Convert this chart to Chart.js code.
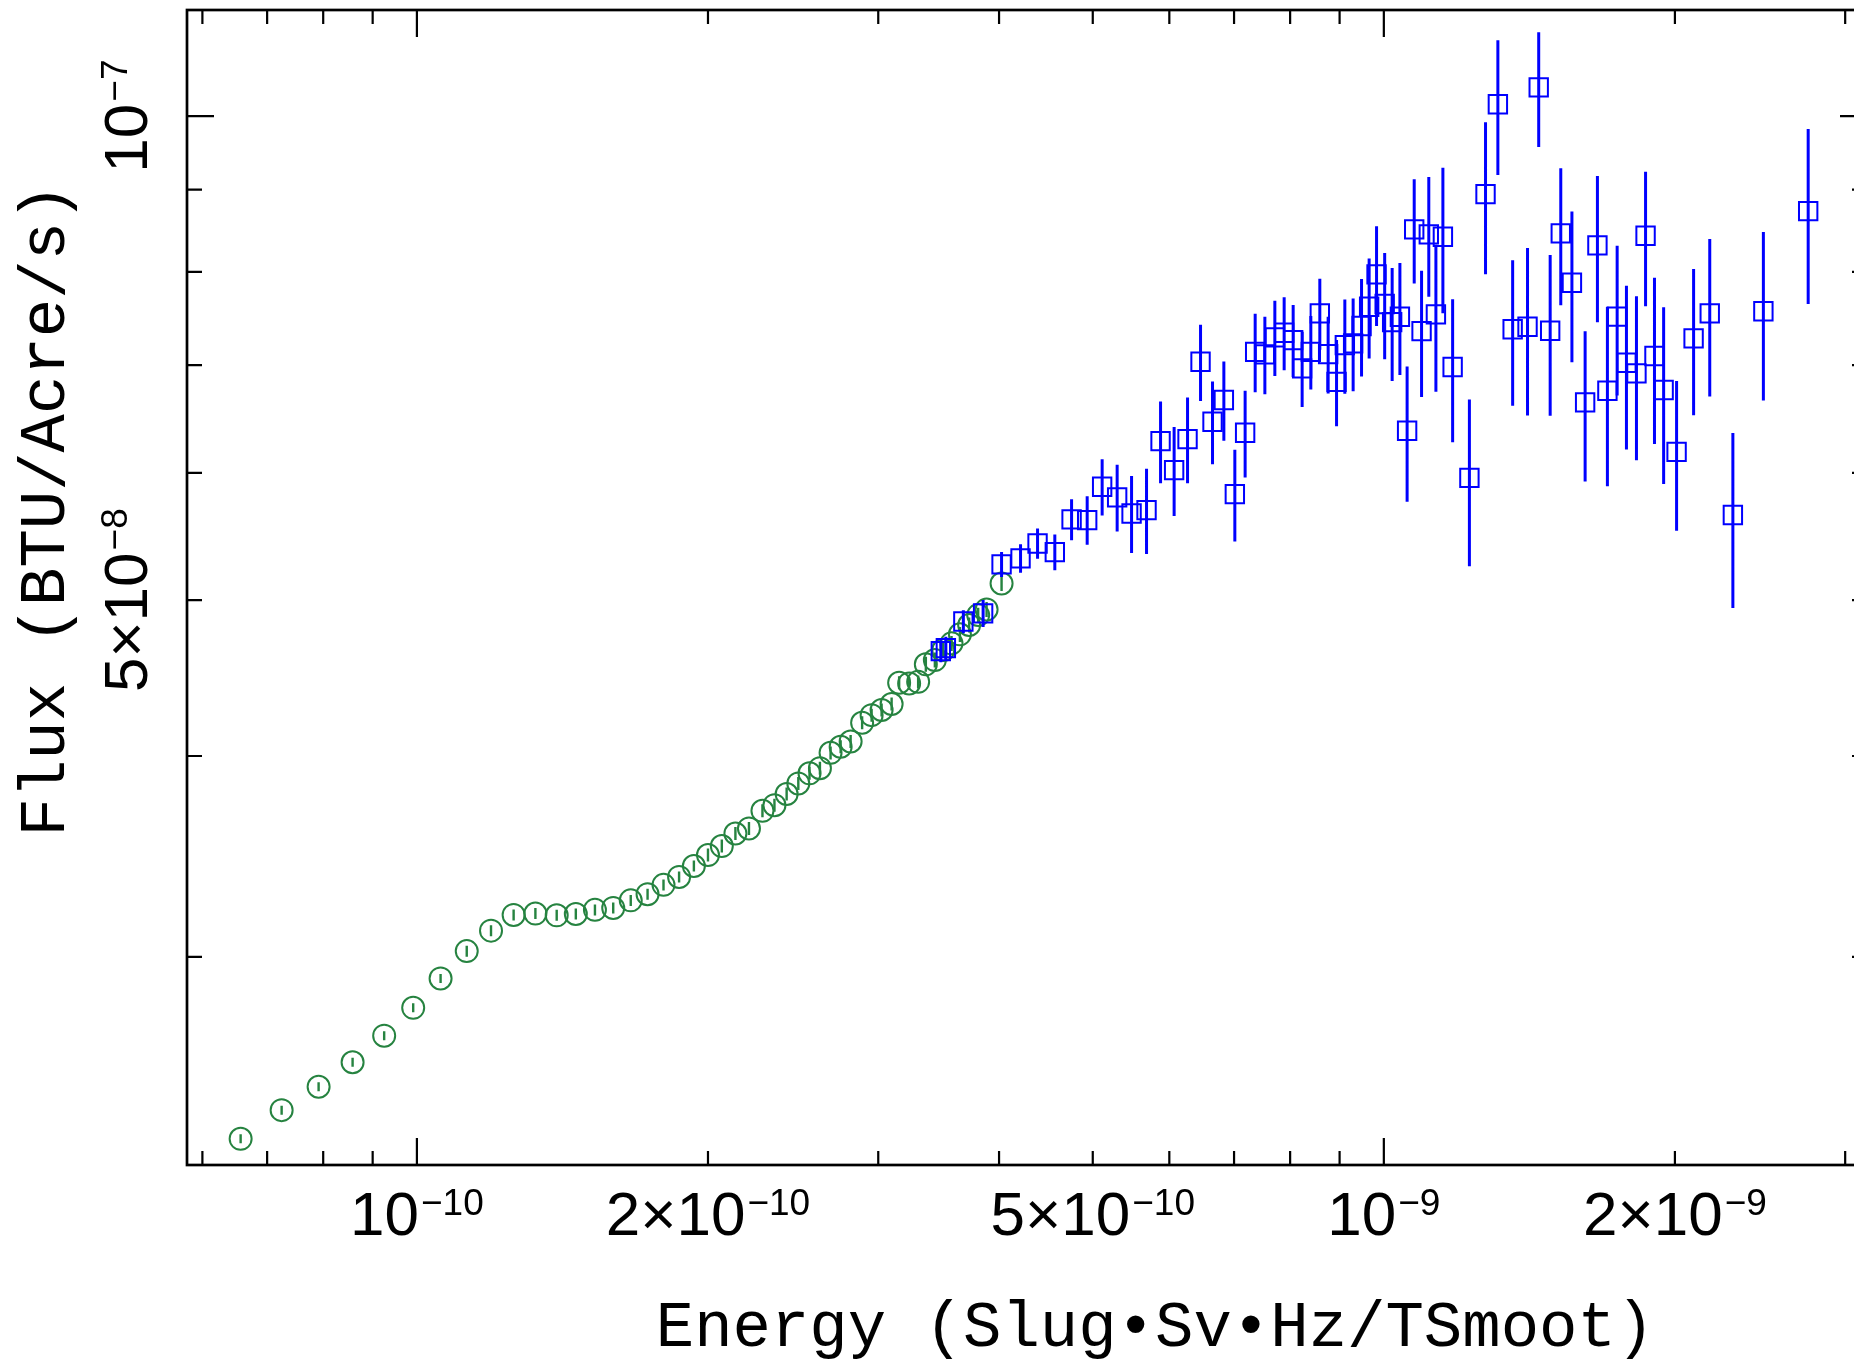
<!DOCTYPE html>
<html>
<head>
<meta charset="utf-8">
<script src="https://cdn.jsdelivr.net/npm/chart.js@4.4.1/dist/chart.umd.min.js"></script>
<style>
  html, body { margin: 0; padding: 0; background: #fff; }
  #frame { width: 1854px; height: 1362px; overflow: hidden; position: relative; }
  canvas { display: block; }
</style>
</head>
<body>
<div id="frame"><canvas id="spectrum" width="1880" height="1362" style="width:1880px;height:1362px"></canvas></div>
<script>
// green circles (lower energy set)
const greenX = [0.6572e-10, 0.7246e-10, 0.7913e-10, 0.858e-10, 0.925e-10, 0.9912e-10, 1.058e-10, 1.126e-10,
  1.193e-10, 1.259e-10, 1.326e-10, 1.395e-10, 1.460e-10, 1.528e-10, 1.596e-10, 1.664e-10, 1.732e-10,
  1.799e-10, 1.867e-10, 1.934e-10, 2.000e-10, 2.067e-10, 2.135e-10, 2.205e-10, 2.277e-10, 2.343e-10,
  2.412e-10, 2.480e-10, 2.547e-10, 2.611e-10, 2.678e-10, 2.743e-10, 2.809e-10, 2.887e-10, 2.953e-10,
  3.024e-10, 3.097e-10, 3.153e-10, 3.229e-10, 3.299e-10, 3.360e-10, 3.433e-10, 3.502e-10, 3.572e-10,
  3.644e-10, 3.725e-10, 3.806e-10, 3.883e-10, 4.024e-10];
const greenY = [2.312e-8, 2.409e-8, 2.491e-8, 2.580e-8, 2.680e-8, 2.789e-8, 2.909e-8, 3.025e-8, 3.115e-8,
  3.186e-8, 3.192e-8, 3.184e-8, 3.190e-8, 3.209e-8, 3.218e-8, 3.253e-8, 3.282e-8, 3.326e-8, 3.364e-8,
  3.417e-8, 3.471e-8, 3.516e-8, 3.580e-8, 3.606e-8, 3.698e-8, 3.728e-8, 3.788e-8, 3.846e-8, 3.902e-8,
  3.931e-8, 4.018e-8, 4.053e-8, 4.084e-8, 4.195e-8, 4.241e-8, 4.272e-8, 4.309e-8, 4.442e-8, 4.438e-8,
  4.448e-8, 4.561e-8, 4.589e-8, 4.655e-8, 4.700e-8, 4.761e-8, 4.825e-8, 4.894e-8, 4.934e-8, 5.121e-8];
const greenErr = [1.49e-10, 1.55e-10, 1.60e-10, 1.66e-10, 1.73e-10, 1.80e-10, 1.87e-10,
  2.38e-10, 2.45e-10, 2.51e-10, 2.52e-10, 2.51e-10, 2.51e-10, 2.53e-10, 2.54e-10, 2.56e-10, 2.59e-10,
  2.62e-10, 2.65e-10, 2.69e-10, 3.23e-10, 3.27e-10, 3.33e-10, 3.36e-10, 3.44e-10, 3.47e-10, 3.53e-10,
  3.58e-10, 3.63e-10, 3.66e-10, 3.74e-10, 3.77e-10, 3.80e-10, 3.91e-10, 3.95e-10, 3.98e-10, 4.01e-10,
  4.14e-10, 4.13e-10, 4.14e-10, 4.90e-10, 4.93e-10, 5.00e-10, 5.05e-10, 5.11e-10, 5.18e-10, 5.26e-10,
  5.30e-10, 5.50e-10];

// blue squares (higher energy set)
const blueX = [3.482e-10, 3.524e-10, 3.674e-10, 3.851e-10, 4.024e-10, 4.210e-10, 4.384e-10, 4.568e-10,
  4.754e-10, 4.934e-10, 5.113e-10, 5.299e-10, 5.484e-10, 5.683e-10, 5.876e-10, 6.069e-10, 6.266e-10,
  6.463e-10, 6.650e-10, 6.832e-10, 7.013e-10, 7.187e-10, 7.361e-10, 7.533e-10, 7.714e-10, 7.887e-10,
  8.058e-10, 8.232e-10, 8.404e-10, 8.586e-10, 8.758e-10, 8.935e-10, 9.113e-10, 9.295e-10, 9.483e-10,
  9.656e-10, 9.828e-10, 1.002e-9, 1.020e-9, 1.039e-9, 1.057e-9, 1.075e-9, 1.094e-9, 1.113e-9, 1.132e-9,
  1.151e-9, 1.178e-9, 1.226e-9, 1.274e-9, 1.312e-9, 1.359e-9, 1.408e-9, 1.446e-9, 1.486e-9, 1.524e-9,
  1.565e-9, 1.615e-9, 1.663e-9, 1.703e-9, 1.743e-9, 1.782e-9, 1.825e-9, 1.865e-9, 1.905e-9, 1.947e-9,
  2.008e-9, 2.091e-9, 2.173e-9, 2.296e-9, 2.469e-9, 2.747e-9];
const blueY = [4.648e-8, 4.668e-8, 4.849e-8, 4.906e-8, 5.263e-8, 5.308e-8, 5.423e-8, 5.356e-8, 5.613e-8,
  5.607e-8, 5.881e-8, 5.793e-8, 5.661e-8, 5.688e-8, 6.279e-8, 6.023e-8, 6.297e-8, 7.034e-8, 6.455e-8,
  6.659e-8, 5.820e-8, 6.354e-8, 7.135e-8, 7.109e-8, 7.284e-8, 7.332e-8, 7.256e-8, 6.968e-8, 7.135e-8,
  7.539e-8, 7.112e-8, 6.835e-8, 7.204e-8, 7.222e-8, 7.403e-8, 7.611e-8, 7.972e-8, 7.640e-8, 7.445e-8,
  7.502e-8, 6.372e-8, 8.502e-8, 7.350e-8, 8.442e-8, 7.528e-8, 8.413e-8, 6.981e-8, 5.957e-8, 8.943e-8,
  1.017e-7, 7.369e-8, 7.396e-8, 1.042e-7, 7.353e-8, 8.454e-8, 7.876e-8, 6.637e-8, 8.310e-8, 6.748e-8,
  7.504e-8, 7.024e-8, 6.918e-8, 8.425e-8, 7.092e-8, 6.755e-8, 6.183e-8, 7.274e-8, 7.539e-8, 5.648e-8,
  7.562e-8, 8.728e-8];
const blueErr = [0.73e-9, 0.77e-9, 0.80e-9, 0.95e-9, 0.94e-9, 1.08e-9, 1.17e-9, 1.37e-9, 1.65e-9, 1.94e-9,
  2.36e-9, 2.77e-9, 3.11e-9, 3.46e-9, 3.67e-9, 3.83e-9, 3.86e-9, 3.83e-9, 3.82e-9, 3.78e-9, 3.82e-9,
  3.95e-9, 4.01e-9, 3.94e-9, 3.91e-9, 3.82e-9, 3.74e-9, 3.74e-9, 3.75e-9, 3.82e-9, 3.90e-9, 4.21e-9,
  4.85e-9, 4.78e-9, 5.16e-9, 5.45e-9, 5.67e-9, 5.80e-9, 6.01e-9, 6.00e-9, 6.15e-9, 6.33e-9, 6.63e-9,
  7.22e-9, 7.90e-9, 8.73e-9, 7.13e-9, 7.08e-9, 9.69e-9, 9.78e-9, 7.65e-9, 8.83e-9, 8.54e-9, 8.43e-9,
  8.27e-9, 8.46e-9, 7.12e-9, 8.67e-9, 8.62e-9, 8.02e-9, 8.20e-9, 8.09e-9, 8.10e-9, 8.40e-9, 8.50e-9,
  6.61e-9, 7.59e-9, 8.46e-9, 7.04e-9, 9.08e-9, 10.88e-9];

// axis ranges and ticks
const xRange = [5.784e-11, 3.16e-9];
const yRange = [2.227e-8, 1.164e-7];
const xMajorTicks = [1e-10, 1e-9];
const xMinorTicks = [6e-11, 7e-11, 8e-11, 9e-11, 2e-10, 3e-10, 4e-10, 5e-10, 6e-10, 7e-10, 8e-10, 9e-10, 2e-9, 3e-9];
const yMajorTicks = [1e-7];
const yMinorTicks = [3e-8, 4e-8, 5e-8, 6e-8, 7e-8, 8e-8, 9e-8];
const xLabelValues = [1e-10, 2e-10, 5e-10, 1e-9, 2e-9];
const xLabelBase = ["10", "2×10", "5×10", "10", "2×10"];
const xLabelExp = ["−10", "−10", "−10", "−9", "−9"];
const yLabelValues = [5e-8, 1e-7];
const yLabelBase = ["5×10", "10"];
const yLabelExp = ["−8", "−7"];
const xTitle = "Energy (Slug•Sv•Hz/TSmoot)";
const yTitle = "Flux (BTU/Acre/s)";

const GREEN = "#268340";
const BLUE = "#0000ff";
const tickFont = "'Liberation Sans', Arial, Helvetica, sans-serif";
const titleFont = "64px 'Liberation Mono', 'Courier New', monospace";

const toPoints = (xs, ys) => xs.map((x, i) => ({ x: x, y: ys[i] }));

// value with superscript exponent, centred on cx
function drawPower(ctx, base, exp, cx, baseline) {
  ctx.font = "62px " + tickFont;
  const wb = ctx.measureText(base).width;
  ctx.font = "37px " + tickFont;
  const we = ctx.measureText(exp).width;
  const x0 = cx - (wb + we + 2) / 2;
  ctx.textAlign = "left";
  ctx.textBaseline = "alphabetic";
  ctx.font = "62px " + tickFont;
  ctx.fillText(base, x0, baseline);
  ctx.font = "37px " + tickFont;
  ctx.fillText(exp, x0 + wb + 2, baseline - 20);
}

// vertical error bars, drawn with each dataset
const errorBars = {
  id: "errorBars",
  afterDatasetDraw(chart, args) {
    const ds = chart.data.datasets[args.index];
    if (!ds.errors) return;
    const { ctx, chartArea: a } = chart;
    const ys = chart.scales.y;
    ctx.save();
    ctx.beginPath();
    ctx.rect(a.left, a.top, a.right - a.left, a.bottom - a.top);
    ctx.clip();
    ctx.strokeStyle = ds.borderColor;
    ctx.lineWidth = ds.errorWidth;
    ctx.beginPath();
    args.meta.data.forEach((pt, i) => {
      const v = ds.data[i].y, e = ds.errors[i];
      ctx.moveTo(pt.x, ys.getPixelForValue(v + e));
      ctx.lineTo(pt.x, ys.getPixelForValue(v - e));
    });
    ctx.stroke();
    ctx.restore();
  }
};

// box, inward ticks on all four sides, tick labels and axis titles
const frameAndLabels = {
  id: "frameAndLabels",
  afterDraw(chart) {
    const { ctx, chartArea: a } = chart;
    const xs = chart.scales.x, ys = chart.scales.y;
    ctx.save();
    ctx.strokeStyle = "#000";
    ctx.fillStyle = "#000";
    ctx.lineWidth = 2.2;
    ctx.beginPath();
    const xTick = (v, len) => {
      const px = xs.getPixelForValue(v);
      ctx.moveTo(px, a.bottom); ctx.lineTo(px, a.bottom - len);
      ctx.moveTo(px, a.top); ctx.lineTo(px, a.top + len);
    };
    const yTick = (v, len) => {
      const py = ys.getPixelForValue(v);
      ctx.moveTo(a.left, py); ctx.lineTo(a.left + len, py);
      ctx.moveTo(a.right, py); ctx.lineTo(a.right - len, py);
    };
    xMinorTicks.forEach(v => xTick(v, 14));
    xMajorTicks.forEach(v => xTick(v, 27));
    yMinorTicks.forEach(v => yTick(v, 15));
    yMajorTicks.forEach(v => yTick(v, 27));
    ctx.stroke();

    ctx.lineWidth = 2.7;
    ctx.strokeRect(a.left, a.top, a.right - a.left, a.bottom - a.top);

    // x tick labels
    xLabelValues.forEach((v, i) => {
      drawPower(ctx, xLabelBase[i], xLabelExp[i], xs.getPixelForValue(v), a.bottom + 70);
    });
    // y tick labels, rotated
    yLabelValues.forEach((v, i) => {
      ctx.save();
      ctx.translate(a.left - 40, ys.getPixelForValue(v));
      ctx.rotate(-Math.PI / 2);
      drawPower(ctx, yLabelBase[i], yLabelExp[i], 0, 0);
      ctx.restore();
    });

    // axis titles
    ctx.font = titleFont;
    ctx.textAlign = "center";
    ctx.textBaseline = "alphabetic";
    ctx.fillText(xTitle, 1155, 1346);
    ctx.save();
    ctx.translate(64, 510);
    ctx.rotate(-Math.PI / 2);
    ctx.fillText(yTitle, 0, 0);
    ctx.restore();
    ctx.restore();
  }
};

new Chart(document.getElementById("spectrum"), {
  type: "scatter",
  data: {
    datasets: [
      {
        label: "high",
        data: toPoints(blueX, blueY),
        errors: blueErr,
        errorWidth: 3,
        pointStyle: "rect",
        pointRadius: 13,
        borderColor: BLUE,
        backgroundColor: "rgba(0,0,0,0)",
        borderWidth: 2,
        order: 0,
      },
      {
        label: "low",
        data: toPoints(greenX, greenY),
        errors: greenErr,
        errorWidth: 2.4,
        pointStyle: "circle",
        pointRadius: 11,
        borderColor: GREEN,
        backgroundColor: "rgba(0,0,0,0)",
        borderWidth: 2,
        order: 1,
      },
    ],
  },
  options: {
    responsive: false,
    animation: false,
    events: [],
    layout: { autoPadding: false, padding: { left: 187, top: 10, right: 13, bottom: 197 } },
    plugins: { legend: { display: false }, tooltip: { enabled: false } },
    scales: {
      x: { type: "logarithmic", display: false, min: xRange[0], max: xRange[1] },
      y: { type: "logarithmic", display: false, min: yRange[0], max: yRange[1] },
    },
  },
  plugins: [errorBars, frameAndLabels],
});
</script>
</body>
</html>
